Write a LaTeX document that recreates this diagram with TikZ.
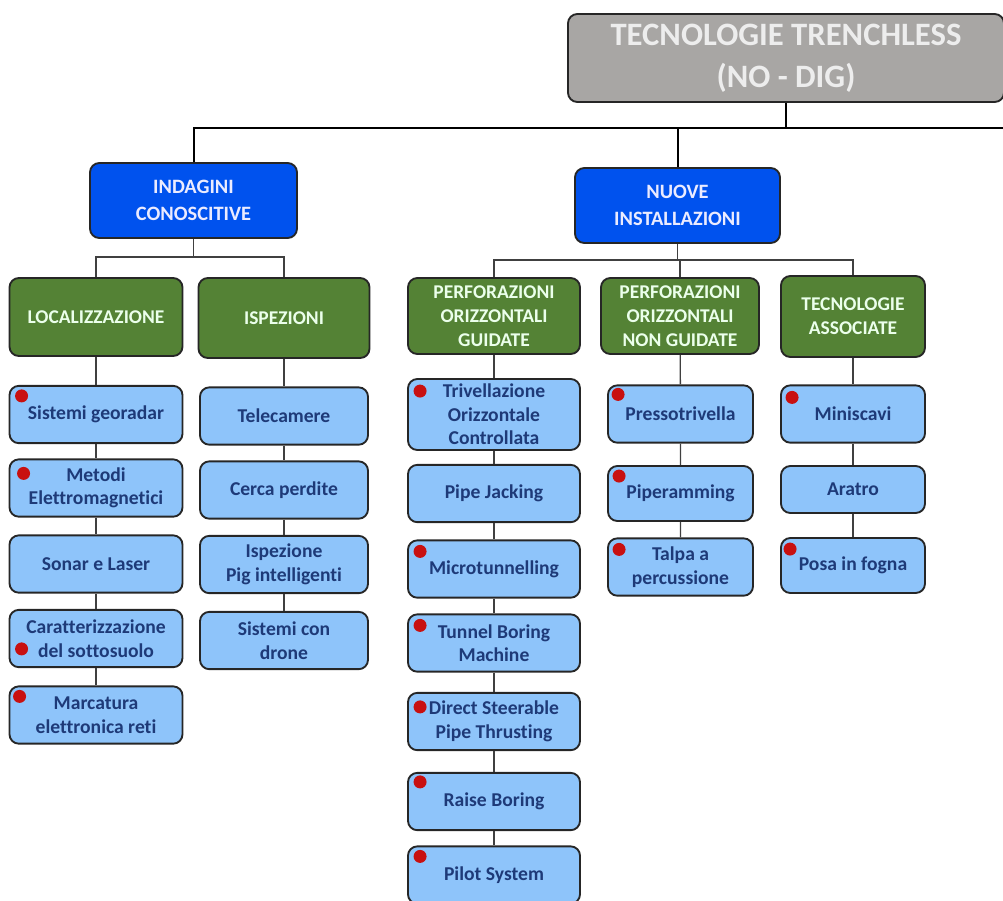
\documentclass[tikz,border=0pt]{standalone}
\usepackage{fontspec}
\setmainfont{Carlito}[Ligatures=NoCommon]
\usepackage{tikz}
\usetikzlibrary{calc}

\definecolor{rootgray}{RGB}{168,166,164}
\definecolor{headblue}{RGB}{0,82,238}
\definecolor{groupgreen}{RGB}{84,130,53}
\definecolor{itemblue}{RGB}{142,196,250}
\definecolor{itemtext}{RGB}{30,58,120}
\definecolor{dotred}{RGB}{200,16,16}

\begin{document}
\begin{tikzpicture}[x=0.75pt,y=0.75pt,yscale=-1,xscale=1,
  box/.style={draw=black!85, line width=1.4pt, rounded corners=7pt, align=center, inner sep=1pt},
  rootbox/.style={box, fill=rootgray, text=white!93!black, font=\bfseries\fontsize{24.5}{31.5}\selectfont, minimum width=327pt, minimum height=66pt},
  head/.style={box, fill=headblue, text=white!92!blue, font=\bfseries\fontsize{15.3}{20}\selectfont, minimum height=56.25pt},
  group/.style={box, fill=groupgreen, text=green!8!white, font=\bfseries\fontsize{14.6}{18}\selectfont},
  item/.style={box, fill=itemblue, text=itemtext, font=\bfseries\fontsize{14.7}{17.6}\selectfont, minimum height=43pt},
  colA/.style={minimum width=129.75pt},
  colB/.style={minimum width=126pt},
  colC/.style={minimum width=129pt},
  colD/.style={minimum width=108.75pt},
  colE/.style={minimum width=108pt},
  trunk/.style={draw=black, line width=1.5pt},
  branch/.style={draw=black!75, line width=1pt},
  reddot/.style={fill=dotred}]
\useasboundingbox (0,0) rectangle (1003,900);

% top levels
\node[rootbox] (root) at (786,58) {TECNOLOGIE TRENCHLESS\\(NO - DIG)};
\node[head, minimum width=155.25pt] (indag) at (193.5,200.5) {INDAGINI\\CONOSCITIVE};
\node[head, minimum width=153.75pt] (nuove) at (677.5,205.5) {NUOVE\\INSTALLAZIONI};

% groups
\node[group, colA, minimum height=58.5pt] (loc) at (96,317) {LOCALIZZAZIONE};
\node[group, minimum width=128.25pt, minimum height=60pt] (isp) at (284,318) {ISPEZIONI};
\node[group, colC, minimum height=57pt] (pog) at (494,316) {PERFORAZIONI\\ORIZZONTALI\\GUIDATE};
\node[group, minimum width=118.5pt, minimum height=57pt] (pong) at (680,316) {PERFORAZIONI\\ORIZZONTALI\\NON GUIDATE};
\node[group, colE, minimum height=60.75pt] (tass) at (853,316.5) {TECNOLOGIE\\ASSOCIATE};

% localizzazione
\node[item, colA] (georadar) at (96,414.5) {Sistemi georadar};
\node[item, colA] (elettromag) at (96,488) {Metodi\\Elettromagnetici};
\node[item, colA] (sonar) at (96,564) {Sonar e Laser};
\node[item, colA] (caratt) at (96,638.5) {Caratterizzazione\\del sottosuolo};
\node[item, colA] (marcatura) at (96,715) {Marcatura\\elettronica reti};

% ispezioni
\node[item, colB] (telecamere) at (284,416) {Telecamere};
\node[item, colB] (cercaperdite) at (284,490) {Cerca perdite};
\node[item, colB] (pig) at (284,564.5) {Ispezione\\Pig intelligenti};
\node[item, colB] (drone) at (284,640.5) {Sistemi con\\drone};

% perforazioni guidate
\node[item, colC, minimum height=53.25pt] (toc) at (494,414.5) {Trivellazione\\Orizzontale\\Controllata};
\node[item, colC] (pipejack) at (494,493.5) {Pipe Jacking};
\node[item, colC] (microtun) at (494,569) {Microtunnelling};
\node[item, colC] (tbm) at (494,643) {Tunnel Boring\\Machine};
\node[item, colC] (dspt) at (494,721.5) {Direct Steerable\\Pipe Thrusting};
\node[item, colC] (raise) at (494,801.5) {Raise Boring};
\node[item, colC] (pilot) at (494,875) {Pilot System};

% perforazioni non guidate
\node[item, colD] (presso) at (680.5,414) {Pressotrivella};
\node[item, colD, minimum height=41.25pt] (piperam) at (680.5,493.5) {Piperamming};
\node[item, colD] (talpa) at (680.5,567) {Talpa a\\percussione};

% tecnologie associate
\node[item, colE] (miniscavi) at (853,414) {Miniscavi};
\node[item, colE, minimum height=35.25pt] (aratro) at (853,489.5) {Aratro};
\node[item, colE, minimum height=41.25pt] (posa) at (853,565.5) {Posa in fogna};

% connectors
\coordinate (topbus) at (1003,128);
\draw[trunk] (root.south) -- (root.south |- topbus);
\draw[trunk] (indag.north) |- (topbus);
\draw[trunk] (nuove.north) -- (nuove.north |- topbus);

\coordinate (busA) at (193.5,257);
\draw[branch] (indag.south) -- (busA);
\draw[branch] (loc.north) |- (busA) -| (isp.north);

\coordinate (busB) at (677.5,260);
\draw[branch] (nuove.south) -- (busB);
\draw[branch] (pog.north) |- (busB) -| (tass.north);
\draw[branch] (pong.north) -- (pong.north |- busB);

\draw[branch] (loc) -- (georadar) -- (elettromag) -- (sonar) -- (caratt) -- (marcatura);
\draw[branch] (isp) -- (telecamere) -- (cercaperdite) -- (pig) -- (drone);
\draw[branch] (pog) -- (toc) -- (pipejack) -- (microtun) -- (tbm) -- (dspt) -- (raise) -- (pilot);
\draw[branch] (pong) -- (presso) -- (piperam) -- (talpa);
\draw[branch] (tass) -- (miniscavi) -- (aratro) -- (posa);

% red dots
\foreach \n/\dx/\dy in {georadar/13/11, elettromag/15/15, caratt/13/40, marcatura/11/11,
    toc/13/13, microtun/13/12, tbm/13/12, dspt/13/15, raise/13/10, pilot/13/11,
    presso/11/10, piperam/12/11, talpa/12/12, miniscavi/12/13, posa/10/12}
  \fill[reddot] ($(\n.north west)+(\dx,\dy)$) circle (6.5);

\end{tikzpicture}
\end{document}
